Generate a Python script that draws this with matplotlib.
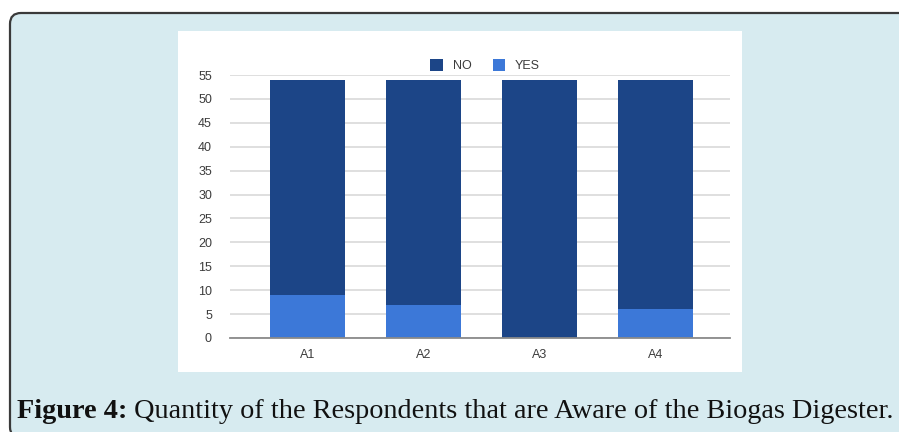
import matplotlib
matplotlib.use("Agg")
import matplotlib.pyplot as plt
from matplotlib.patches import FancyBboxPatch, Rectangle
import numpy as np

# Survey answers per question
categories = ["A1", "A2", "A3", "A4"]
no_counts = [45, 47, 54, 48]
yes_counts = [9, 7, 0, 6]
y_ticks = list(range(0, 56, 5))
caption_bold = "Figure 4:"
caption_text = " Quantity of the Respondents that are Aware of the Biogas Digester."

W, H = 899, 432
fig = plt.figure(figsize=(W / 100, H / 100), dpi=100, facecolor="white")

# Full-figure pixel canvas for the panel frame
bg = fig.add_axes([0, 0, 1, 1], zorder=0)
bg.set_xlim(0, W)
bg.set_ylim(H, 0)
bg.axis("off")
bg.add_patch(FancyBboxPatch((10, 13), 920, 425,
                            boxstyle="round,pad=0,rounding_size=11",
                            facecolor="#d7ebf0", edgecolor="#3a3a3a", lw=1.6))
bg.add_patch(Rectangle((178, 31), 564, 341, facecolor="white", edgecolor="none"))

# Caption, sized to span the panel width
cap_x0, cap_x1, cap_base = 17, 893, 418
fs = 16.0
t1 = bg.text(cap_x0, cap_base, caption_bold, fontsize=fs, fontweight="bold",
             family="Liberation Serif", color="#111111", va="baseline", ha="left")
t2 = bg.text(cap_x0, cap_base, caption_text, fontsize=fs,
             family="Liberation Serif", color="#111111", va="baseline", ha="left")
fig.canvas.draw()
r = fig.canvas.get_renderer()
total = t1.get_window_extent(r).width + t2.get_window_extent(r).width
fs = fs * (cap_x1 - cap_x0) / total
t1.set_fontsize(fs)
t2.set_fontsize(fs)
fig.canvas.draw()
t2.set_x(cap_x0 + t1.get_window_extent(r).width)

# Stacked bar chart
left, right, top, bottom = 230, 730, 75, 338
ax = fig.add_axes([left / W, (H - bottom) / H, (right - left) / W, (bottom - top) / H],
                  zorder=1)
ax.set_facecolor("none")
x = np.arange(len(categories))
ax.bar(x, yes_counts, width=0.65, color="#3c78d8", label="YES", zorder=3)
ax.bar(x, no_counts, width=0.65, bottom=yes_counts, color="#1c4587", label="NO", zorder=3)

ax.set_xlim(-0.67, 3.64)
ax.set_ylim(0, 55)
ax.set_yticks(y_ticks)
ax.set_xticks(x)
ax.set_xticklabels(categories)
for s in ["top", "right", "left"]:
    ax.spines[s].set_visible(False)
ax.spines["bottom"].set_color("#8a8a8a")
ax.spines["bottom"].set_linewidth(1.3)
ax.spines["bottom"].set_zorder(4)
ax.grid(axis="y", color="#dcdcdc", linewidth=1.3, zorder=0)
ax.tick_params(axis="both", length=0, labelsize=9, labelcolor="#3c3c3c")
ax.tick_params(axis="y", pad=13)
ax.tick_params(axis="x", pad=8)
for lab in ax.get_xticklabels() + ax.get_yticklabels():
    lab.set_family("Liberation Sans")

handles, labels = ax.get_legend_handles_labels()
leg = ax.legend(handles[::-1], labels[::-1], loc="center", ncol=2,
                bbox_to_anchor=(0.51, 1.035), frameon=False,
                handlelength=1.0, handleheight=1.0, handletextpad=0.8,
                columnspacing=1.7, prop={"family": "Liberation Sans", "size": 9})
for t in leg.get_texts():
    t.set_color("#3c3c3c")

fig.savefig("out.png", dpi=100, facecolor="white")
